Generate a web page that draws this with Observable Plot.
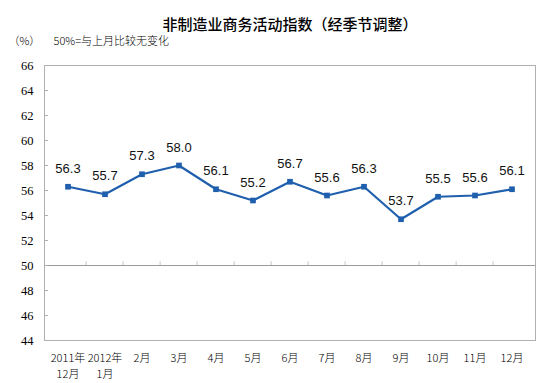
<!DOCTYPE html>
<html>
<head>
<meta charset="utf-8">
<script src="https://cdn.jsdelivr.net/npm/d3@7"></script>
<script src="https://cdn.jsdelivr.net/npm/@observablehq/plot@0.6"></script>
<style>
  html, body { margin: 0; padding: 0; background: #fff; }
  #chart { width: 553px; height: 383px; }
</style>
</head>
<body>
<div id="chart"></div>
<script>
const months = ["2011-12", "2012-01", "2012-02", "2012-03", "2012-04", "2012-05", "2012-06", "2012-07", "2012-08", "2012-09", "2012-10", "2012-11", "2012-12"];
const monthLabels = ["2011年\n12月", "2012年\n1月", "2月", "3月", "4月", "5月", "6月", "7月", "8月", "9月", "10月", "11月", "12月"];
const values = [56.3, 55.7, 57.3, 58.0, 56.1, 55.2, 56.7, 55.6, 56.3, 53.7, 55.5, 55.6, 56.1];
const yTicks = [44, 46, 48, 50, 52, 54, 56, 58, 60, 62, 64, 66];
const title = "非制造业商务活动指数（经季节调整）";
const unitLabel = "（%）";
const note = "50%=与上月比较无变化";

const data = months.map((m, i) => ({month: m, value: values[i]}));
const labelOf = new Map(months.map((m, i) => [m, monthLabels[i]]));

const cjk = "'Noto Sans CJK SC', sans-serif";
const blue = "#1f5fae";

const chart = Plot.plot({
  width: 553,
  height: 383,
  marginLeft: 44,
  marginRight: 18,
  marginTop: 65,
  marginBottom: 43,
  style: {fontFamily: cjk, fontSize: "11px", color: "#000", background: "#fff", overflow: "visible"},
  x: {type: "band", domain: months, padding: 0},
  y: {domain: [44, 66]},
  marks: [
    Plot.frame({stroke: "#b0b0b0"}),
    Plot.ruleY([50], {stroke: "#9a9a9a"}),
    Plot.ruleX(months.slice(1), {x: d => d, y1: 50, y2: 50.3, dx: -491 / 26, stroke: "#c8c8c8"}),
    Plot.axisY({ticks: yTicks, tickSize: -4, tickPadding: 15, stroke: "#b0b0b0", fontFamily: "'Liberation Serif', serif", fontSize: 12.5, label: null}),
    Plot.axisX({tickSize: 0, tickPadding: 11, tickFormat: d => labelOf.get(d), fontSize: 11, fontWeight: 300, label: null, lineHeight: 1.4}),
    Plot.line(data, {x: "month", y: "value", stroke: blue, strokeWidth: 2.2}),
    Plot.dot(data, {x: "month", y: "value", symbol: "square", r: 3.2, fill: blue, stroke: "none"}),
    Plot.text(data, {x: "month", y: "value", text: d => d.value.toFixed(1), dy: -18, fontFamily: "'Liberation Sans', Arial, sans-serif", fontSize: 13, fill: "#111"}),
    Plot.text([title], {frameAnchor: "top", dy: -46, fontSize: 15, fontWeight: 500, fill: "#000", fontFamily: cjk, text: d => d}),
    Plot.text([unitLabel], {frameAnchor: "top-left", dx: -36, dy: -28, fontSize: 11, fontWeight: 300, textAnchor: "start", fill: "#000", text: d => d}),
    Plot.text([note], {frameAnchor: "top-left", dx: 9, dy: -28, fontSize: 11, fontWeight: 300, textAnchor: "start", fill: "#000", text: d => d})
  ]
});
document.getElementById("chart").appendChild(chart);
</script>
</body>
</html>
